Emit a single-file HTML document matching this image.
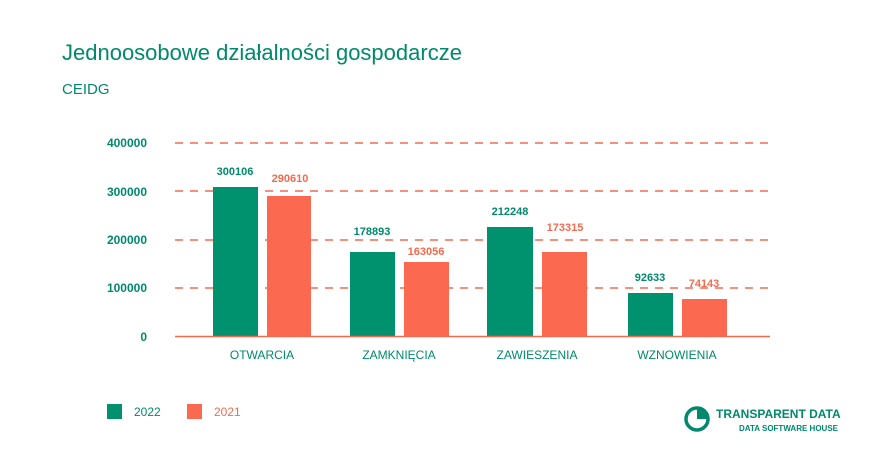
<!DOCTYPE html><html><head><style>body{margin:0;background:#fff}</style></head><body>
<svg width="875" height="456" xmlns="http://www.w3.org/2000/svg" font-family="Liberation Sans, sans-serif">
<rect width="875" height="456" fill="#fff"/>
<text x="62" y="60" font-size="22" fill="#00896c">Jednoosobowe działalności gospodarcze</text>
<text x="62" y="94" font-size="15" fill="#00896c">CEIDG</text>
<g stroke="#f26b50" stroke-width="1.6" stroke-dasharray="8,7">
<line x1="175" y1="143" x2="770" y2="143"/><line x1="175" y1="191" x2="770" y2="191"/>
<line x1="175" y1="240" x2="770" y2="240"/><line x1="175" y1="288" x2="770" y2="288"/></g>
<g font-size="12" font-weight="bold" fill="#00896c" text-anchor="end">
<text x="147" y="147">400000</text><text x="147" y="196">300000</text><text x="147" y="244">200000</text><text x="147" y="292">100000</text><text x="147" y="341">0</text></g>
<g fill="#00916f"><rect x="213" y="187" width="45" height="149"/><rect x="350" y="252" width="45" height="84"/><rect x="487" y="227" width="46" height="109"/><rect x="628" y="293" width="45" height="43"/></g>
<g fill="#fb6a50"><rect x="267" y="196" width="44" height="140"/><rect x="404" y="262" width="45" height="74"/><rect x="542" y="252" width="45" height="84"/><rect x="682" y="299" width="45" height="37"/></g>
<line x1="175" y1="336.5" x2="770" y2="336.5" stroke="#f26b50" stroke-width="1.5"/>
<g font-size="11" text-anchor="middle" font-weight="bold">
<text x="235" y="175" fill="#00896c">300106</text><text x="290" y="182" fill="#f26b50">290610</text>
<text x="372" y="235" fill="#00896c">178893</text><text x="426" y="255" fill="#f26b50">163056</text>
<text x="510" y="215" fill="#00896c">212248</text><text x="565" y="231" fill="#f26b50">173315</text>
<text x="650" y="281" fill="#00896c">92633</text><text x="704" y="287" fill="#f26b50">74143</text></g>
<g font-size="12" fill="#00896c" text-anchor="middle">
<text x="262" y="359">OTWARCIA</text><text x="399" y="359">ZAMKNIĘCIA</text><text x="537" y="359">ZAWIESZENIA</text><text x="677" y="359">WZNOWIENIA</text></g>
<rect x="107" y="404" width="15" height="15" fill="#00916f"/><text x="134" y="416" font-size="12" fill="#00896c">2022</text>
<rect x="187" y="404" width="15" height="15" fill="#fb6a50"/><text x="214" y="416" font-size="12" fill="#f26b50">2021</text>
<circle cx="697" cy="419" r="11" fill="none" stroke="#00896c" stroke-width="3.5"/>
<path d="M697 408 A11 11 0 0 1 708 419 L697 419 Z" fill="#00896c"/>
<text x="716" y="418" font-size="12" font-weight="bold" fill="#00896c">TRANSPARENT DATA</text>
<text x="838" y="431" font-size="8" font-weight="bold" fill="#00896c" text-anchor="end">DATA SOFTWARE HOUSE</text>
</svg></body></html>
